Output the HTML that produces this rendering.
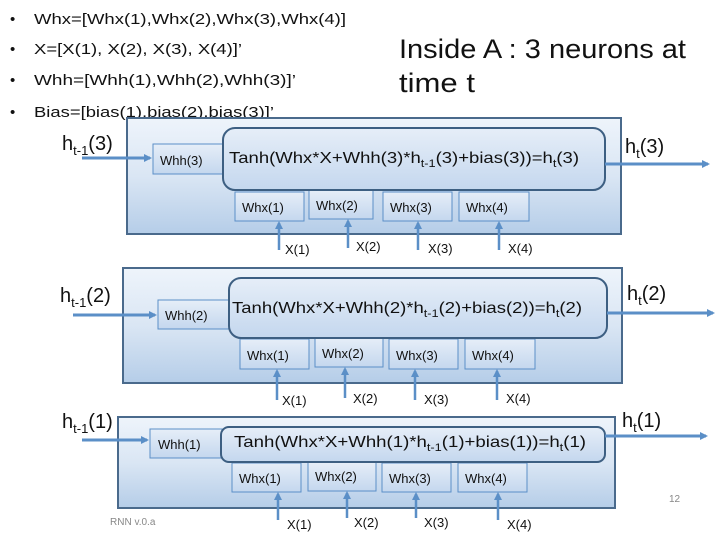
<!DOCTYPE html>
<html><head><meta charset="utf-8"><style>
body{margin:0;background:#fff}
svg{display:block}
text{font-family:"Liberation Sans",sans-serif;fill:#111}
</style></head><body>
<svg width="720" height="540" viewBox="0 0 720 540">
<defs>
<linearGradient id="g" x1="0" y1="0" x2="0" y2="1">
<stop offset="0" stop-color="#eef4fb"/><stop offset="0.5" stop-color="#dae6f4"/><stop offset="1" stop-color="#b5cde8"/>
</linearGradient>
<linearGradient id="gi" x1="0" y1="0" x2="0" y2="1">
<stop offset="0" stop-color="#e6eef8"/><stop offset="1" stop-color="#c4d7ee"/>
</linearGradient>
<marker id="a" markerWidth="8" markerHeight="8" refX="6" refY="4" orient="auto" markerUnits="userSpaceOnUse"><path d="M0,0 L8,4 L0,8 z" fill="#5b8fc7"/></marker>
</defs>
<g font-size="15">
<text x="10" y="24">•</text><text x="34" y="24" textLength="312" lengthAdjust="spacingAndGlyphs">Whx=[Whx(1),Whx(2),Whx(3),Whx(4)]</text>
<text x="10" y="54">•</text><text x="34" y="54" textLength="208" lengthAdjust="spacingAndGlyphs">X=[X(1), X(2), X(3), X(4)]’</text>
<text x="10" y="85">•</text><text x="34" y="85" textLength="262" lengthAdjust="spacingAndGlyphs">Whh=[Whh(1),Whh(2),Whh(3)]’</text>
<text x="10" y="117">•</text><text x="34" y="117" textLength="240" lengthAdjust="spacingAndGlyphs">Bias=[bias(1),bias(2),bias(3)]’</text>
</g>
<text x="399" y="58" font-size="27" textLength="287" lengthAdjust="spacingAndGlyphs">Inside A : 3 neurons at</text>
<text x="399" y="92" font-size="27" textLength="76" lengthAdjust="spacingAndGlyphs">time t</text>

<g stroke="#4a6a8c" stroke-width="2">
<rect x="127" y="118" width="494" height="116" fill="url(#g)"/>
<rect x="123" y="268" width="499" height="115" fill="url(#g)"/>
<rect x="118" y="417" width="497" height="91" fill="url(#g)"/>
</g>
<g stroke="#5b8fc7" stroke-width="1" fill="url(#gi)">
<rect x="153" y="144" width="70" height="30"/>
<rect x="158" y="300" width="71" height="29"/>
<rect x="150" y="429" width="72" height="29"/>
<rect x="235" y="192" width="69" height="29"/><rect x="309" y="190" width="64" height="29"/><rect x="383" y="192" width="69" height="29"/><rect x="459" y="192" width="70" height="29"/>
<rect x="240" y="339" width="69" height="30"/><rect x="315" y="338" width="68" height="29"/><rect x="389" y="339" width="69" height="30"/><rect x="465" y="339" width="70" height="30"/>
<rect x="232" y="463" width="69" height="29"/><rect x="308" y="462" width="68" height="29"/><rect x="382" y="463" width="69" height="29"/><rect x="458" y="463" width="69" height="29"/>
</g>
<g stroke="#3d5f82" stroke-width="2" fill="url(#gi)">
<rect x="223" y="128" width="382" height="62" rx="12"/>
<rect x="229" y="278" width="378" height="60" rx="12"/>
<rect x="221" y="427" width="384" height="35" rx="8"/>
</g>
<g stroke="#5b8fc7" stroke-width="3" marker-end="url(#a)" fill="none">
<line x1="82" y1="158" x2="150" y2="158"/>
<line x1="73" y1="315" x2="155" y2="315"/>
<line x1="82" y1="440" x2="147" y2="440"/>
<line x1="605" y1="164" x2="708" y2="164"/>
<line x1="607" y1="313" x2="713" y2="313"/>
<line x1="605" y1="436" x2="706" y2="436"/>
</g>
<g stroke="#5b8fc7" stroke-width="2.5" marker-end="url(#a)">
<line x1="279" y1="250" x2="279" y2="223"/><line x1="348" y1="248" x2="348" y2="221"/><line x1="418" y1="250" x2="418" y2="223"/><line x1="499" y1="250" x2="499" y2="223"/>
<line x1="277" y1="400" x2="277" y2="371"/><line x1="345" y1="398" x2="345" y2="369"/><line x1="415" y1="400" x2="415" y2="371"/><line x1="497" y1="400" x2="497" y2="371"/>
<line x1="278" y1="520" x2="278" y2="494"/><line x1="347" y1="518" x2="347" y2="493"/><line x1="416" y1="518" x2="416" y2="494"/><line x1="498" y1="520" x2="498" y2="494"/>
</g>
<g font-size="13">
<text x="160" y="165">Whh(3)</text><text x="165" y="320">Whh(2)</text><text x="158" y="449">Whh(1)</text>
<text x="242" y="212">Whx(1)</text><text x="316" y="210">Whx(2)</text><text x="390" y="212">Whx(3)</text><text x="466" y="212">Whx(4)</text>
<text x="247" y="360">Whx(1)</text><text x="322" y="358">Whx(2)</text><text x="396" y="360">Whx(3)</text><text x="472" y="360">Whx(4)</text>
<text x="239" y="483">Whx(1)</text><text x="315" y="481">Whx(2)</text><text x="389" y="483">Whx(3)</text><text x="465" y="483">Whx(4)</text>
<text x="285" y="254">X(1)</text><text x="356" y="251">X(2)</text><text x="428" y="253">X(3)</text><text x="508" y="253">X(4)</text>
<text x="282" y="405">X(1)</text><text x="353" y="403">X(2)</text><text x="424" y="404">X(3)</text><text x="506" y="403">X(4)</text>
<text x="287" y="529">X(1)</text><text x="354" y="527">X(2)</text><text x="424" y="527">X(3)</text><text x="507" y="529">X(4)</text>
</g>
<g font-size="16">
<text x="229" y="163" textLength="350" lengthAdjust="spacingAndGlyphs">Tanh(Whx*X+Whh(3)*h<tspan font-size="11" dy="4">t-1</tspan><tspan dy="-4">(3)+bias(3))=h</tspan><tspan font-size="11" dy="4">t</tspan><tspan dy="-4">(3)</tspan></text>
<text x="232" y="313" textLength="350" lengthAdjust="spacingAndGlyphs">Tanh(Whx*X+Whh(2)*h<tspan font-size="11" dy="4">t-1</tspan><tspan dy="-4">(2)+bias(2))=h</tspan><tspan font-size="11" dy="4">t</tspan><tspan dy="-4">(2)</tspan></text>
<text x="234" y="447" textLength="352" lengthAdjust="spacingAndGlyphs">Tanh(Whx*X+Whh(1)*h<tspan font-size="11" dy="4">t-1</tspan><tspan dy="-4">(1)+bias(1))=h</tspan><tspan font-size="11" dy="4">t</tspan><tspan dy="-4">(1)</tspan></text>
</g>
<g font-size="20">
<text x="62" y="150">h<tspan font-size="13" dy="5">t-1</tspan><tspan dy="-5">(3)</tspan></text>
<text x="60" y="302">h<tspan font-size="13" dy="5">t-1</tspan><tspan dy="-5">(2)</tspan></text>
<text x="62" y="428">h<tspan font-size="13" dy="5">t-1</tspan><tspan dy="-5">(1)</tspan></text>
<text x="625" y="153">h<tspan font-size="13" dy="5">t</tspan><tspan dy="-5">(3)</tspan></text>
<text x="627" y="300">h<tspan font-size="13" dy="5">t</tspan><tspan dy="-5">(2)</tspan></text>
<text x="622" y="427">h<tspan font-size="13" dy="5">t</tspan><tspan dy="-5">(1)</tspan></text>
</g>
<text x="110" y="525" font-size="10" style="fill:#888">RNN v.0.a</text>
<text x="669" y="502" font-size="10" style="fill:#888">12</text>
</svg>
</body></html>
